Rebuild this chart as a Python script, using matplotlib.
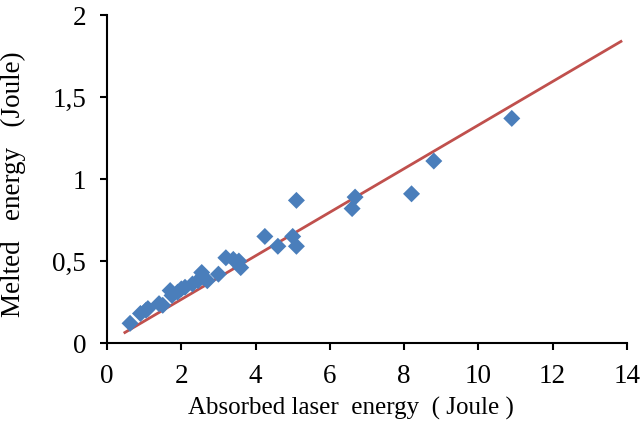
import numpy as np
import matplotlib
matplotlib.use("Agg")
import matplotlib.pyplot as plt

# measured points (absorbed vs melted energy, Joule)
absorbed = [0.62, 0.9, 1.05, 1.1, 1.4, 1.5, 1.7, 1.75, 1.9, 2.0, 2.1, 2.3, 2.45,
            2.55, 2.6, 2.7, 3.0, 3.2, 3.4, 3.55, 3.6, 4.25, 4.6, 5.0, 5.1, 5.1,
            6.6, 6.68, 8.2, 8.8, 10.9]
melted = [0.12, 0.18, 0.2, 0.21, 0.24, 0.23, 0.32, 0.29, 0.31, 0.33, 0.34, 0.36,
          0.38, 0.43, 0.40, 0.38, 0.42, 0.52, 0.51, 0.50, 0.46, 0.65, 0.59, 0.65,
          0.59, 0.87, 0.82, 0.89, 0.91, 1.11, 1.37]

# trend line
trend_x = [0.48, 13.84]
trend_slope = 0.1329
trend_y = [0.064, 0.064 + trend_slope * (13.84 - 0.48)]

xticks = [0, 2, 4, 6, 8, 10, 12, 14]
yticks = [0, 0.5, 1, 1.5, 2]
ylabels = ['0', '0,5', '1', '1,5', '2']

plt.rcParams['font.family'] = ['Liberation Serif', 'DejaVu Serif']

fig = plt.figure(figsize=(6.41, 4.32), dpi=100)
ax = fig.add_axes([0.167, 0.206, 0.811, 0.759])

ax.plot(trend_x, trend_y, color='#C0504D', lw=2, zorder=2)
ax.scatter(absorbed, melted, marker='D', s=75, color='#4A7EBB', edgecolors='none', zorder=3)

ax.set_xlim(0, 14)
ax.set_ylim(0, 2)
ax.set_xticks(xticks)
ax.set_xticklabels([str(t) for t in xticks])
ax.set_yticks(yticks)
ax.set_yticklabels(ylabels)

for s in ['top', 'right']:
    ax.spines[s].set_visible(False)
for s in ['left', 'bottom']:
    ax.spines[s].set_linewidth(1.5)
ax.tick_params(direction='out', length=5, width=1.5, labelsize=19.5, pad=10)

ax.set_xlabel('Absorbed laser  energy  ( Joule )', fontsize=18)
ax.set_ylabel('Melted   energy   (Joule)', fontsize=19.5)
ax.xaxis.set_label_coords(0.469, -0.165)
ax.yaxis.set_label_coords(-0.155, 0.485)

fig.savefig('out.png', dpi=100)
